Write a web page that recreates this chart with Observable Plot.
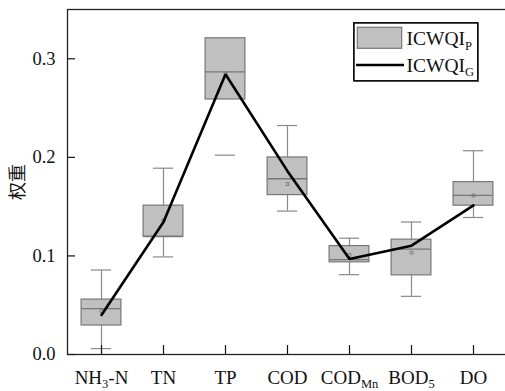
<!DOCTYPE html>
<html><head><meta charset="utf-8">
<script src="https://cdn.jsdelivr.net/npm/d3@7"></script>
<script src="https://cdn.jsdelivr.net/npm/@observablehq/plot@0.6"></script>
<style>
body{margin:0;background:#fff;overflow:hidden}
#chart{position:relative;width:505px;height:391px}
#legend{position:absolute;left:353.3px;top:22.3px;width:122.5px;height:56.5px;border:1.5px solid #111;background:transparent;box-sizing:content-box;pointer-events:none}
</style>
</head><body><div id="chart"><div id="legend"></div></div>
<script>
// Indicators
const categories = ["NH3-N", "TN", "TP", "COD", "CODMn", "BOD5", "DO"];
// ICWQI_P box statistics
const whiskerLow  = [0.006, 0.099, 0.2587, 0.1455, 0.081, 0.059, 0.139];
const q1          = [0.0294, 0.1196, 0.2587, 0.1617, 0.0935, 0.0803, 0.151];
const median      = [0.0466, 0.1196, 0.2867, 0.1783, 0.0963, 0.107, 0.1614];
const q3          = [0.0557, 0.151, 0.3208, 0.1999, 0.110, 0.1165, 0.1749];
const whiskerHigh = [0.0857, 0.189, 0.3208, 0.2323, 0.118, 0.1344, 0.2067];
const means       = [0.044, 0.136, 0.285, 0.1729, 0.101, 0.1034, 0.1614];
// outliers (category, value)
const outlierCats = ["TP"];
const outlierVals = [0.2022];
// ICWQI_G weights
const gWeights = [0.0401, 0.1344, 0.2843, 0.186, 0.0969, 0.1104, 0.1513];
const yTicks = [0, 0.1, 0.2, 0.3];

const rows = categories.map((c, i) => ({
  c, lo: whiskerLow[i], q1: q1[i], med: median[i], q3: q3[i], hi: whiskerHigh[i], mean: means[i], g: gWeights[i]
}));
const outliers = outlierCats.map((c, i) => ({c, v: outlierVals[i]}));

const W = 505, H = 391;
const boxInset = 11.1, capInset = 20.9;
const boxFill = "#c0c0c0", boxStroke = "#777", whiskColor = "#8a8a8a";
const serif = "'Liberation Serif', 'Times New Roman', serif";

const plot = Plot.plot({
  width: W, height: H,
  marginLeft: 67, marginRight: -2, marginTop: 9, marginBottom: 37,
  style: {fontFamily: serif, fontSize: "19px", background: "white", color: "#111"},
  x: {domain: categories, padding: 0, label: null},
  y: {domain: [0, 0.35], label: null},
  marks: [
    Plot.ruleX(rows, {x: "c", y1: "q3", y2: "hi", stroke: whiskColor, strokeWidth: 1.2}),
    Plot.ruleX(rows, {x: "c", y1: "lo", y2: "q1", stroke: whiskColor, strokeWidth: 1.2}),
    Plot.tickY(rows.filter(d => d.hi > d.q3), {x: "c", y: "hi", stroke: whiskColor, strokeWidth: 1.2, insetLeft: capInset, insetRight: capInset}),
    Plot.tickY(rows.filter(d => d.lo < d.q1), {x: "c", y: "lo", stroke: whiskColor, strokeWidth: 1.2, insetLeft: capInset, insetRight: capInset}),
    Plot.tickY(outliers, {x: "c", y: "v", stroke: whiskColor, strokeWidth: 1.2, insetLeft: capInset, insetRight: capInset}),
    Plot.barY(rows, {x: "c", y1: "q1", y2: "q3", fill: boxFill, stroke: boxStroke, strokeWidth: 1.2, insetLeft: boxInset, insetRight: boxInset}),
    Plot.tickY(rows, {x: "c", y: "med", stroke: boxStroke, strokeWidth: 1.3, insetLeft: boxInset, insetRight: boxInset}),
    Plot.dot(rows, {x: "c", y: "mean", symbol: "square", r: 1.6, stroke: "#777", fill: "none", strokeWidth: 0.9}),
    Plot.line(rows, {x: "c", y: "g", stroke: "#000", strokeWidth: 2.6, strokeLinejoin: "miter"}),
    Plot.axisX({tickSize: -9, tickPadding: 25, stroke: "#111", strokeWidth: 1.2, fontSize: 19}),
    Plot.axisY({ticks: yTicks, tickFormat: d3.format(".1f"), tickSize: -8, tickPadding: 20, stroke: "#111", strokeWidth: 1.2, fontSize: 18.5}),
    Plot.frame({stroke: "#222", strokeWidth: 1.3})
  ]
});
const chart = document.getElementById("chart");
chart.insertBefore(plot, chart.firstChild);

const svg = d3.select(plot);
// subscripts on x tick labels
const subs = {"NH3-N": ["NH", "3", "-N"], "CODMn": ["COD", "Mn", ""], "BOD5": ["BOD", "5", ""]};
svg.selectAll('g[aria-label="x-axis tick label"] text').each(function() {
  const t = d3.select(this);
  const s = subs[t.text()];
  if (!s) return;
  t.text(null);
  t.append("tspan").text(s[0]);
  t.append("tspan").attr("dy", 4).attr("font-size", 12.5).text(s[1]);
  if (s[2]) t.append("tspan").attr("dy", -4).text(s[2]);
});

// y label
svg.append("text")
  .attr("transform", "translate(24,182) rotate(-90)")
  .attr("text-anchor", "middle")
  .attr("font-family", "'Noto Sans CJK SC', sans-serif")
  .attr("font-size", 18)
  .attr("fill", "#111")
  .text("权重");

// legend
const lg = svg.append("g").attr("text-anchor", "start");
lg.append("path").attr("d", "M354,23H478V81H354Z")
  .attr("fill", "none").attr("stroke", "#111").attr("stroke-width", 1.5);
lg.append("rect").attr("x", 357.3).attr("y", 27.3).attr("width", 44.4).attr("height", 21)
  .attr("fill", boxFill).attr("stroke", boxStroke).attr("stroke-width", 1.2);
lg.append("line").attr("x1", 356).attr("x2", 404).attr("y1", 65).attr("y2", 65)
  .attr("stroke", "#000").attr("stroke-width", 2.6);
const labels = [["ICWQI", "P", 45], ["ICWQI", "G", 71.5]];
labels.forEach(([a, b, y]) => {
  const t = lg.append("text").attr("x", 406.5).attr("y", y).attr("text-anchor", "start")
    .attr("font-family", serif).attr("font-size", 19.5).attr("fill", "#111");
  t.append("tspan").text(a);
  t.append("tspan").attr("dy", 4.5).attr("font-size", 12.5).text(b);
});
</script>
</body></html>
